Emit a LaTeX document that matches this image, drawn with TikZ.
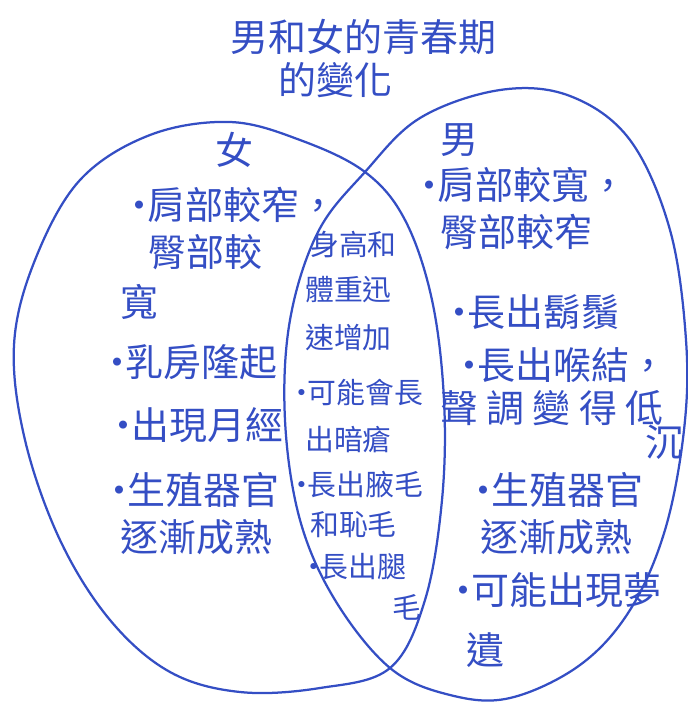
\documentclass[tikz,border=0pt]{standalone}
\usepackage{fontspec}
\setmainfont{Noto Sans CJK TC}
\usepackage{tikz}
\usetikzlibrary{positioning}
\definecolor{InkBlue}{RGB}{52,78,196}
\newcommand{\dotmark}{\makebox[0.4em]{·}}
\newcommand{\handcomma}{\makebox[0.35em][l]{，}}

\begin{document}
\begin{tikzpicture}[
    x=0.025cm, y=-0.025cm,
    loop/.style={draw=InkBlue, line width=1.6pt, line join=round},
    hand/.style={font=\fontsize{27}{30}\selectfont, text=InkBlue, anchor=west, inner sep=0pt},
    midhand/.style={hand, font=\fontsize{20.5}{24}\selectfont},
    headline/.style={hand, font=\fontsize{27}{30}\selectfont}
]
\useasboundingbox (0,0) rectangle (688,704);
% the two loops
\draw[loop] plot[smooth cycle, tension=0.6] coordinates {
    (365,172) (300,140) (230,122) (150,135) (80,180) (35,260) (14,345)
    (25,440) (60,540) (110,620) (170,672) (240,692) (320,688) (390,668)
    (425,600) (442,500) (444,400) (432,300) (405,220)};
\draw[loop] plot[smooth cycle, tension=0.6] coordinates {
    (365,172) (420,118) (500,90) (570,96) (630,140) (670,230) (686,340)
    (684,430) (665,530) (630,610) (580,665) (510,698) (450,695) (390,668)
    (335,600) (300,520) (285,420) (290,320) (318,232)};
% title
\node[headline] (title1) at (230,37) {男和女的青春期};
\node[headline] (title2) at (278,80) {的變化};
% girls
\node[hand] (girl) at (215,150) {女};
\node[hand] (g1) at (132,205) {\dotmark 肩部較窄\handcomma};
\node[hand] (g2) at (148,252) {臀部較};
\node[hand] (g3) at (120,302) {寬};
\node[hand] (g4) at (110,362) {\dotmark 乳房隆起};
\node[hand] (g5) at (116,425) {\dotmark 出現月經};
\node[hand] (g6) at (112,490) {\dotmark 生殖器官};
\node[hand] (g7) at (120,537) {逐漸成熟};
% both
\node[midhand] (b1) at (310,245) {身高和};
\node[midhand] (b2) at (305,290) {體重迅};
\node[midhand] (b3) at (305,338) {速增加};
\node[midhand] (b4) at (296,393) {\dotmark 可能會長};
\node[midhand] (b5) at (305,440) {出暗瘡};
\node[midhand] (b6) at (296,485) {\dotmark 長出腋毛};
\node[midhand] (b7) at (310,525) {和恥毛};
\node[midhand] (b8) at (308,567) {\dotmark 長出腿};
\node[midhand] (b9) at (392,607) {毛};
% boys
\node[hand] (boy) at (440,140) {男};
\node[hand] (m1) at (422,185) {\dotmark 肩部較寬\handcomma};
\node[hand] (m2) at (440,232) {臀部較窄};
\node[hand] (m3) at (452,312) {\dotmark 長出鬍鬚};
\node[hand] (m4) at (462,365) {\dotmark 長出喉結\handcomma};
\node[hand] (m5) at (440,408) {\addfontfeature{LetterSpace=22}聲調變得低};
\node[hand] (m6) at (645,442) {沉};
\node[hand] (m7) at (476,490) {\dotmark 生殖器官};
\node[hand] (m8) at (480,537) {逐漸成熟};
\node[hand] (m9) at (456,590) {\dotmark 可能出現夢};
\node[hand] (m10) at (466,650) {遺};
\end{tikzpicture}
\end{document}
